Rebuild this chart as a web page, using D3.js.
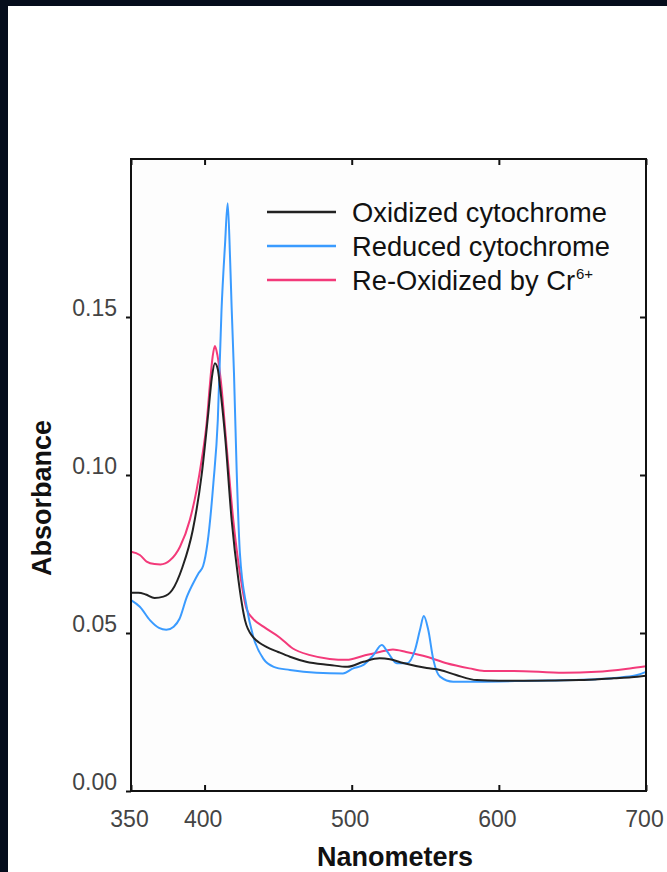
<!DOCTYPE html>
<html>
<head>
<meta charset="utf-8">
<script src="https://cdn.jsdelivr.net/npm/d3@7/dist/d3.min.js"></script>
<style>
  html, body { margin: 0; padding: 0; background: #050d1c; }
  svg { display: block; }
</style>
</head>
<body>
<svg id="chart" width="667" height="872"></svg>
<script>
// Absorption spectra of cytochrome (wavelength in nm, absorbance)
const oxidizedNm  = [350, 355, 360, 366, 372, 378, 385, 392, 398, 402.5, 405, 407, 409, 410.5, 414, 418.4, 423, 427.5, 433, 437, 442, 450, 458, 469, 485, 497, 508, 519, 526, 535, 551, 560, 571, 585, 600, 621, 655, 678, 690, 700];
const oxidizedAbs = [0.0627, 0.0627, 0.0622, 0.0611, 0.0615, 0.0636, 0.0709, 0.0826, 0.1, 0.1195, 0.131, 0.1354, 0.1335, 0.128, 0.112, 0.0858, 0.0668, 0.054, 0.0487, 0.047, 0.0456, 0.044, 0.0425, 0.0409, 0.0399, 0.0393, 0.0409, 0.042, 0.0417, 0.0405, 0.0389, 0.0383, 0.0367, 0.0351, 0.0349, 0.0349, 0.0351, 0.0357, 0.036, 0.0365];

const reducedNm  = [350, 356, 363, 369, 374, 379, 383, 388, 392, 396, 399, 402, 406, 409, 411.5, 413.9, 415.7, 417.3, 418.4, 420, 421.8, 424, 428.6, 433, 440, 447, 458, 476, 494, 501, 508, 514.7, 520.4, 524.9, 530.6, 537.4, 543, 546.4, 549, 552, 555.5, 560, 569, 585, 621, 666, 684, 694, 700];
const reducedAbs = [0.0604, 0.0583, 0.054, 0.0516, 0.051, 0.052, 0.0545, 0.0615, 0.0655, 0.069, 0.0712, 0.0785, 0.0975, 0.1174, 0.152, 0.173, 0.186, 0.169, 0.153, 0.132, 0.1016, 0.0753, 0.0583, 0.049, 0.0418, 0.0393, 0.0383, 0.0374, 0.0372, 0.0388, 0.0399, 0.043, 0.0462, 0.0436, 0.0404, 0.0404, 0.0446, 0.051, 0.0554, 0.051, 0.0415, 0.0362, 0.0346, 0.0346, 0.0349, 0.0354, 0.036, 0.0367, 0.0377];

const reoxNm  = [350, 356, 360.6, 366, 370, 376.5, 383.3, 390, 394.6, 398, 401.4, 403.5, 405.5, 407, 408.7, 411, 415, 419.5, 424, 428.6, 433, 440, 451, 460, 471.7, 485, 496.6, 508, 519, 528, 537, 551, 564.5, 580, 590, 610, 644, 666.5, 689, 700];
const reoxAbs = [0.0757, 0.0747, 0.0726, 0.0718, 0.0717, 0.073, 0.0773, 0.0858, 0.0953, 0.1047, 0.1164, 0.128, 0.1375, 0.1408, 0.138, 0.13, 0.109, 0.0858, 0.069, 0.0575, 0.0545, 0.052, 0.0486, 0.0451, 0.043, 0.0418, 0.0415, 0.0428, 0.044, 0.0448, 0.044, 0.0425, 0.0404, 0.0388, 0.038, 0.038, 0.0374, 0.0377, 0.0388, 0.0395];

const seriesNames  = ["Oxidized cytochrome", "Reduced cytochrome", "Re-Oxidized by Cr"];
const seriesColors = ["#222222", "#3a9bff", "#f33a7a"];

const xTicks = [350, 400, 500, 600, 700];
const yTicks = [0, 0.05, 0.10, 0.15];

const svg = d3.select("#chart");

// page: dark frame with a white sheet
const defs = svg.append("defs");
const glow = defs.append("radialGradient").attr("id", "glow")
  .attr("cx", "0.5").attr("cy", "0").attr("r", "0.5");
glow.append("stop").attr("offset", "0%").attr("stop-color", "#1d4f8a");
glow.append("stop").attr("offset", "100%").attr("stop-color", "#050d1c");
svg.append("rect").attr("width", 667).attr("height", 872).attr("fill", "#050d1c");
svg.append("rect").attr("x", 220).attr("y", -20).attr("width", 240).attr("height", 40).attr("fill", "url(#glow)");
svg.append("rect").attr("x", 8).attr("y", 6).attr("width", 659).attr("height", 866).attr("fill", "#ffffff");

const plot = { left: 131, right: 646, top: 159, bottom: 791 };
const x = d3.scaleLinear().domain([350, 700]).range([plot.left, plot.right]);
const y = d3.scaleLinear().domain([0, 0.2]).range([plot.bottom, plot.top]);

svg.append("rect")
  .attr("x", plot.left).attr("y", plot.top)
  .attr("width", plot.right - plot.left).attr("height", plot.bottom - plot.top)
  .attr("fill", "#fdfdfd");

const series = [
  { nm: reoxNm, abs: reoxAbs, color: seriesColors[2] },
  { nm: reducedNm, abs: reducedAbs, color: seriesColors[1] },
  { nm: oxidizedNm, abs: oxidizedAbs, color: seriesColors[0] }
];

const line = d3.line()
  .x(d => x(d[0])).y(d => y(d[1]))
  .curve(d3.curveMonotoneX);

svg.append("g").selectAll("path").data(series).join("path")
  .attr("d", s => line(s.nm.map((v, i) => [v, s.abs[i]])))
  .attr("fill", "none")
  .attr("stroke", s => s.color)
  .attr("stroke-width", 2)
  .attr("stroke-linejoin", "round");

// frame
svg.append("rect")
  .attr("x", plot.left).attr("y", plot.top)
  .attr("width", plot.right - plot.left).attr("height", plot.bottom - plot.top)
  .attr("fill", "none").attr("stroke", "#111").attr("stroke-width", 2);

const tickFont = "'Liberation Sans', Arial, sans-serif";

// bottom axis: inward ticks, labels below
const xAxis = d3.axisBottom(x).tickValues(xTicks).tickSizeInner(-6).tickSizeOuter(0).tickPadding(20)
  .tickFormat(d3.format("d"));
const gx = svg.append("g").attr("transform", `translate(0,${plot.bottom})`).call(xAxis);
gx.select(".domain").remove();
gx.selectAll(".tick line").attr("stroke", "#111").attr("stroke-width", 2);
gx.selectAll(".tick text")
  .attr("font-family", tickFont).attr("font-size", 23).attr("fill", "#444")
  .attr("dx", -2).attr("dy", 0).attr("y", 36);

// top axis: inward ticks only
const gxt = svg.append("g").attr("transform", `translate(0,${plot.top})`)
  .call(d3.axisTop(x).tickValues(xTicks).tickSizeInner(-6).tickSizeOuter(0).tickFormat(""));
gxt.select(".domain").remove();
gxt.selectAll(".tick line").attr("stroke", "#111").attr("stroke-width", 2);

// left axis: outward ticks, labels
const yAxis = d3.axisLeft(y).tickValues(yTicks).tickSizeInner(5).tickSizeOuter(0).tickPadding(9)
  .tickFormat(d3.format(".2f"));
const gy = svg.append("g").attr("transform", `translate(${plot.left},0)`).call(yAxis);
gy.select(".domain").remove();
gy.selectAll(".tick line").attr("stroke", "#111").attr("stroke-width", 2);
gy.selectAll(".tick text")
  .attr("font-family", tickFont).attr("font-size", 23).attr("fill", "#444")
  .attr("dy", "-0.05em").attr("x", -14);

// right axis: inward ticks only
const gyr = svg.append("g").attr("transform", `translate(${plot.right},0)`)
  .call(d3.axisRight(y).tickValues(yTicks.slice(1)).tickSizeInner(-6).tickSizeOuter(0).tickFormat(""));
gyr.select(".domain").remove();
gyr.selectAll(".tick line").attr("stroke", "#111").attr("stroke-width", 2);

// axis titles
svg.append("text")
  .attr("x", 395).attr("y", 866)
  .attr("text-anchor", "middle")
  .attr("font-family", tickFont).attr("font-weight", "bold").attr("font-size", 27)
  .attr("fill", "#111")
  .text("Nanometers");

svg.append("text")
  .attr("transform", "translate(51,498) rotate(-90)")
  .attr("text-anchor", "middle")
  .attr("font-family", tickFont).attr("font-weight", "bold").attr("font-size", 27)
  .attr("fill", "#111")
  .text("Absorbance");

// legend
const legend = svg.append("g");
const legendRows = [0, 1, 2];
const rowBase = [222, 256, 290];
legendRows.forEach(i => {
  legend.append("line")
    .attr("x1", 267).attr("x2", 336)
    .attr("y1", rowBase[i] - 10).attr("y2", rowBase[i] - 10)
    .attr("stroke", seriesColors[i]).attr("stroke-width", 2.5);
  const t = legend.append("text")
    .attr("x", 352).attr("y", rowBase[i])
    .attr("font-family", tickFont).attr("font-size", 27.3).attr("fill", "#111")
    .text(seriesNames[i]);
  if (i === 2) {
    t.append("tspan").attr("dx", 1).attr("dy", -11).attr("font-size", 15).text("6+");
  }
});
</script>
</body>
</html>
